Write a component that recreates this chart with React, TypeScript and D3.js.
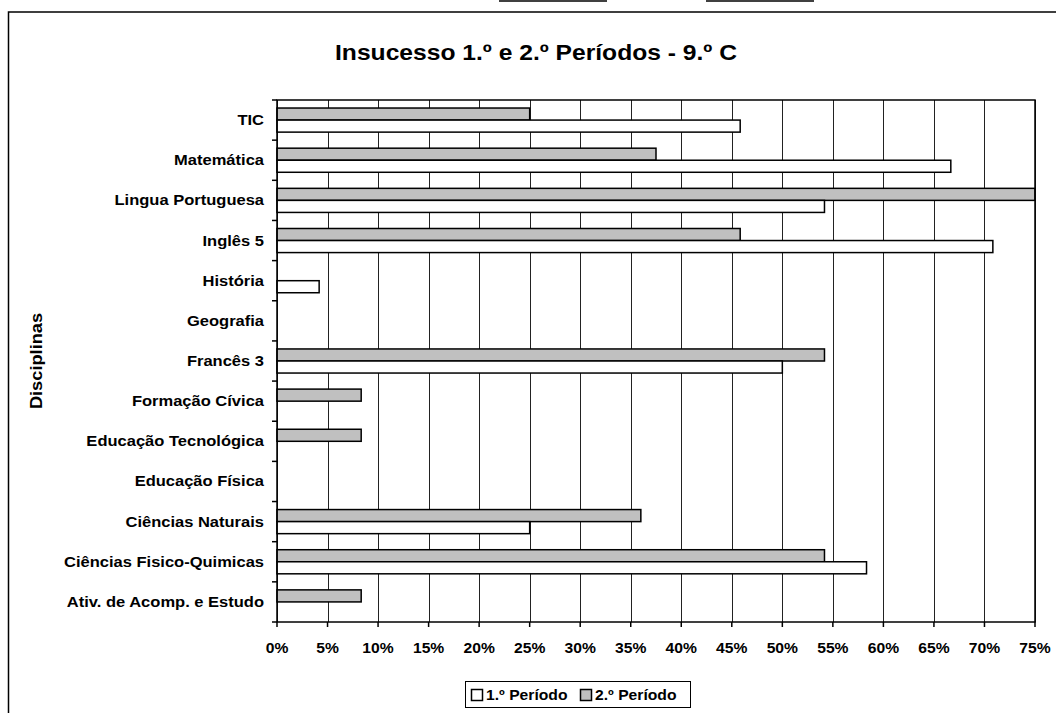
import * as d3 from "d3";

const categories = [
  "TIC",
  "Matemática",
  "Lingua Portuguesa",
  "Inglês 5",
  "História",
  "Geografia",
  "Francês 3",
  "Formação Cívica",
  "Educação Tecnológica",
  "Educação Física",
  "Ciências Naturais",
  "Ciências Fisico-Quimicas",
  "Ativ. de Acomp. e Estudo",
];

const periodo1 = [45.83, 66.67, 54.17, 70.83, 4.17, 0, 50, 0, 0, 0, 25, 58.33, 0];
const periodo2 = [25, 37.5, 75, 45.83, 0, 0, 54.17, 8.33, 8.33, 0, 36, 54.17, 8.33];

const seriesNames = ["1.º Período", "2.º Período"];
const seriesFills = ["#ffffff", "#c0c0c0"];

const xTicks = d3.range(0, 76, 5);

const W = 1056;
const H = 713;
const plot = { left: 277, right: 1035, top: 100, bottom: 622 };
const font = "'Liberation Sans', Arial, sans-serif";

// the source font is a bit wider than Liberation Sans, so stretch text sideways
const T = ({ x, y, size, anchor = "start", sx = 1.16, rot = 0, children }: any) => (
  <text
    transform={`translate(${x},${y}) rotate(${rot}) scale(${sx},1)`}
    textAnchor={anchor}
    dominantBaseline="central"
    fontSize={size}
    fontWeight="bold"
  >
    {children}
  </text>
);

export default function App() {
  const x = d3.scaleLinear().domain([0, 75]).range([plot.left, plot.right]);
  const y = d3.scaleBand<string>().domain(categories).range([plot.top, plot.bottom]);
  const barH = y.bandwidth() * 0.3;

  const rows = categories.map((c, i) => ({ c, v1: periodo1[i], v2: periodo2[i] }));

  return (
    <div style={{ position: "absolute", left: 0, top: 0 }}>
      <svg width={W} height={H} style={{ display: "block", background: "#fff" }} fontFamily={font}>
        <rect x={0} y={0} width={W} height={H} fill="#fff" />
        {/* fragments of the page above */}
        <line x1={499} x2={607} y1={1} y2={1} stroke="#000" strokeWidth={1.5} />
        <line x1={706} x2={814} y1={1} y2={1} stroke="#000" strokeWidth={1.5} />
        {/* outer chart frame (runs off the page) */}
        <rect x={8.5} y={12} width={W + 20} height={H + 20} fill="none" stroke="#000" strokeWidth={1.5} />

        <T x={536} y={52} size={22} anchor="middle" sx={1.12}>
          Insucesso 1.º e 2.º Períodos - 9.º C
        </T>

        {/* gridlines */}
        {xTicks.map((t) => (
          <line
            key={"g" + t}
            x1={Math.round(x(t)) + 0.5}
            x2={Math.round(x(t)) + 0.5}
            y1={plot.top}
            y2={plot.bottom}
            stroke="#222"
            strokeWidth={1}
          />
        ))}

        {/* bars */}
        {rows.map((r) => {
          const cy = (y(r.c) as number) + y.bandwidth() / 2;
          return (
            <g key={r.c}>
              {r.v2 > 0 && (
                <rect x={x(0)} y={cy - barH} width={x(r.v2) - x(0)} height={barH} fill={seriesFills[1]} stroke="#000" strokeWidth={1.5} />
              )}
              {r.v1 > 0 && (
                <rect x={x(0)} y={cy} width={x(r.v1) - x(0)} height={barH} fill={seriesFills[0]} stroke="#000" strokeWidth={1.5} />
              )}
            </g>
          );
        })}

        {/* plot frame */}
        <rect x={plot.left} y={plot.top} width={plot.right - plot.left} height={plot.bottom - plot.top} fill="none" stroke="#000" strokeWidth={1.5} />

        {/* y ticks */}
        {categories.concat(["end"]).map((c, i) => {
          const yy = plot.top + i * y.bandwidth();
          return <line key={"yt" + i} x1={plot.left - 5} x2={plot.left} y1={yy} y2={yy} stroke="#000" strokeWidth={1.5} />;
        })}
        {/* x ticks */}
        {xTicks.map((t) => (
          <line key={"xt" + t} x1={x(t)} x2={x(t)} y1={plot.bottom} y2={plot.bottom + 5} stroke="#000" strokeWidth={1.5} />
        ))}

        {categories.map((c) => (
          <T key={"l" + c} x={264} y={(y(c) as number) + y.bandwidth() / 2} size={14} anchor="end" sx={1.18}>
            {c}
          </T>
        ))}

        {xTicks.map((t) => (
          <T key={"xl" + t} x={x(t)} y={648} size={14} anchor="middle" sx={1.12}>
            {t + "%"}
          </T>
        ))}

        <T x={36} y={(plot.top + plot.bottom) / 2} size={16} anchor="middle" rot={-90} sx={1.14}>
          Disciplinas
        </T>

        {/* legend */}
        <rect x={465.5} y={681.5} width={225} height={26} fill="#fff" stroke="#000" strokeWidth={1} />
        {seriesNames.map((s, i) => {
          const lx = 471 + i * 109;
          return (
            <g key={s}>
              <rect x={lx + 0.5} y={689.5} width={11} height={11} fill={seriesFills[i]} stroke="#000" strokeWidth={1.5} />
              <T x={lx + 15} y={695} size={14} sx={1.12}>
                {s}
              </T>
            </g>
          );
        })}
      </svg>
    </div>
  );
}
